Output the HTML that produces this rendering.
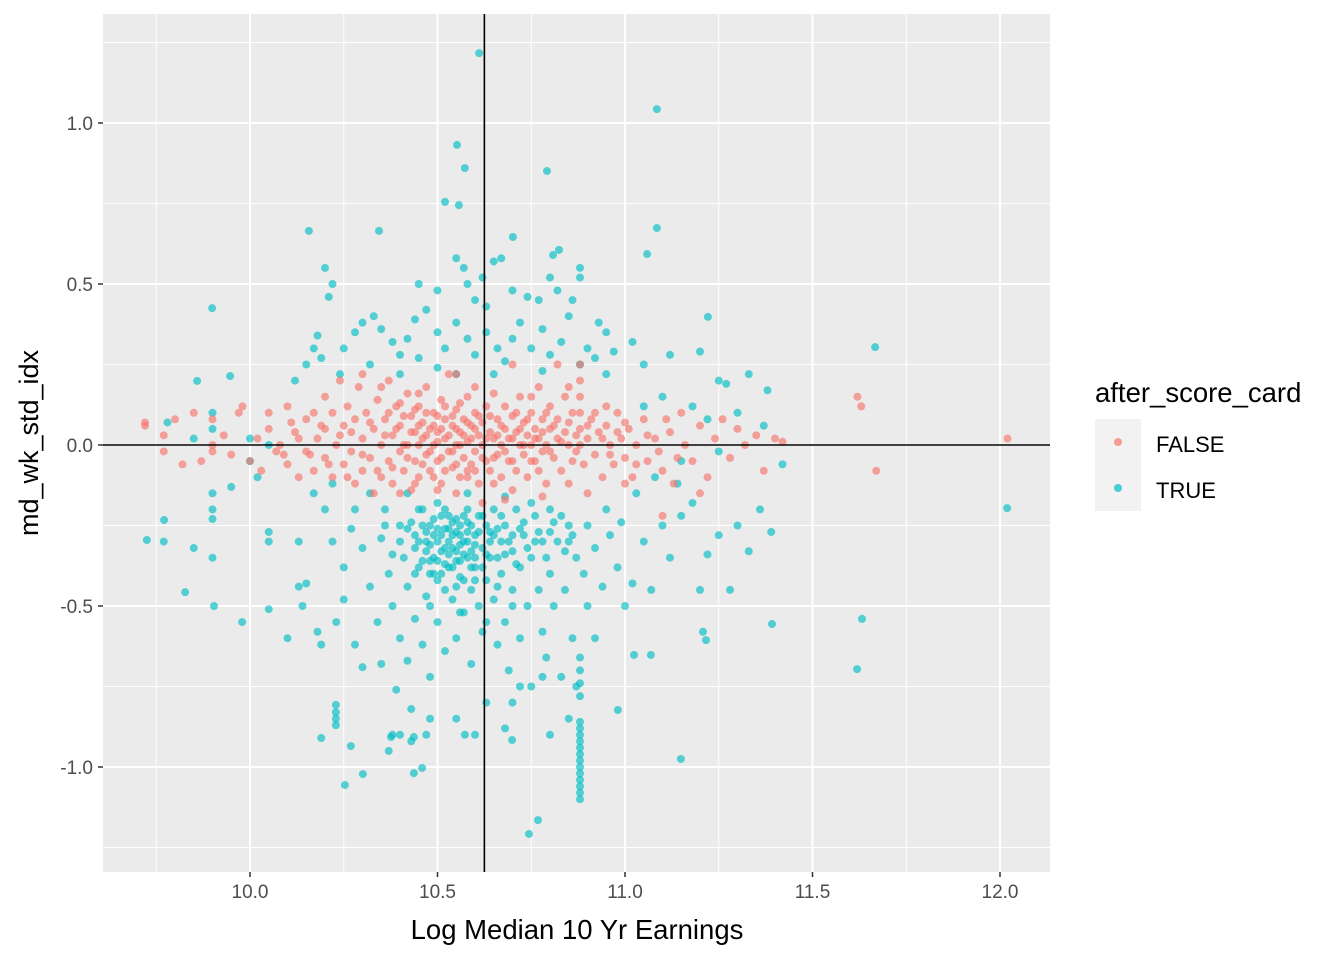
<!DOCTYPE html>
<html><head><meta charset="utf-8"><style>
html,body{margin:0;padding:0;background:#fff;}
svg text{font-family:"Liberation Sans",Arial,sans-serif;}
</style></head><body>
<svg id="chart" width="1344" height="960" xmlns="http://www.w3.org/2000/svg">
<rect x="103" y="14" width="947" height="858" fill="#EBEBEB"/>
<g id="grid"></g>
<g id="pts"></g>
<g id="ref"></g>
<g id="axes"></g>
<text x="577" y="939" font-size="27.5" text-anchor="middle" fill="#000">Log Median 10 Yr Earnings</text>
<text transform="translate(38,443) rotate(-90)" font-size="27" text-anchor="middle" fill="#000">md_wk_std_idx</text>
<g>
<text x="1095" y="402" font-size="27.5" fill="#000">after_score_card</text>
<rect x="1095" y="419" width="46" height="92" fill="#F2F2F2"/>
<circle cx="1118" cy="442" r="4" fill="#F8766D" fill-opacity="0.7"/>
<circle cx="1118" cy="488" r="4" fill="#00BFC4" fill-opacity="0.7"/>
<text x="1156" y="452" font-size="22" fill="#000">FALSE</text>
<text x="1156" y="498" font-size="22" fill="#000">TRUE</text>
</g>
</svg>
<script>
const xTicks=[10.0,10.5,11.0,11.5,12.0];
const xTickLabels=["10.0","10.5","11.0","11.5","12.0"];
const yTicks=[1.0,0.5,0.0,-0.5,-1.0];
const yTickLabels=["1.0","0.5","0.0","-0.5","-1.0"];
const refX=10.625, refY=0;
const truePts=[[10.611,1.217],[11.085,1.043],[10.552,0.932],[10.573,0.86],[10.792,0.851],[10.52,0.755],[10.557,0.745],[10.157,0.665],[10.344,0.665],[11.085,0.674],[11.059,0.593],[10.701,0.646],[10.824,0.606],[10.808,0.59],[9.899,0.425],[11.667,0.304],[11.221,0.398],[9.859,0.199],[9.947,0.214],[12.019,-0.196],[9.725,-0.295],[9.771,-0.233],[9.827,-0.457],[9.904,-0.5],[9.979,-0.55],[11.632,-0.54],[11.619,-0.696],[11.392,-0.556],[11.149,-0.975],[10.981,-0.823],[11.024,-0.652],[11.069,-0.652],[11.208,-0.58],[11.216,-0.606],[10.744,-1.208],[10.768,-1.165],[10.253,-1.056],[10.269,-0.935],[10.301,-1.022],[10.229,-0.807],[10.229,-0.83],[10.229,-0.85],[10.229,-0.87],[10.437,-1.019],[10.459,-1.003],[10.437,-0.907],[10.376,-0.907],[10.43,-0.92],[10.573,-0.9],[10.699,-0.916],[10.8,-0.9],
[10.55,0.58],[10.57,0.55],[10.62,0.52],[10.65,0.57],[10.67,0.58],[10.45,0.5],[10.5,0.48],[10.58,0.5],[10.6,0.45],[10.63,0.43],[10.7,0.48],[10.74,0.46],[10.77,0.45],[10.8,0.52],[10.82,0.48],[10.86,0.45],[10.88,0.55],[10.88,0.52],[10.93,0.38],[10.95,0.35],[10.2,0.55],[10.22,0.5],[10.21,0.46],[10.18,0.34],[10.17,0.3],[10.19,0.27],[10.25,0.3],[10.28,0.35],[10.3,0.38],[10.33,0.4],[10.35,0.36],[10.38,0.32],[10.4,0.28],[10.42,0.33],[10.44,0.39],[10.47,0.42],[10.5,0.35],[10.52,0.3],[10.55,0.38],[10.58,0.33],[10.6,0.28],[10.63,0.35],[10.66,0.3],[10.68,0.26],[10.7,0.33],[10.72,0.38],[10.75,0.3],[10.78,0.36],[10.8,0.28],[10.83,0.32],[10.85,0.4],[10.9,0.3],[10.92,0.27],[10.97,0.29],[11.02,0.32],[11.05,0.25],[11.12,0.28],[11.2,0.29],[11.25,0.2],[11.33,0.22],[11.27,0.19],[11.38,0.17],[10.45,0.27],[10.5,0.24],[10.55,0.22],[10.65,0.22],[10.78,0.23],[10.88,0.25],[10.95,0.22],[10.32,0.25],[10.4,0.22],[10.24,0.22],[10.15,0.25],[10.12,0.2],[9.9,0.1],[9.9,0.05],[9.85,0.02],[9.78,0.07],[10.0,0.02],[10.05,0.0],[11.05,0.12],[11.1,0.15],[11.18,0.12],[11.22,0.08],[11.3,0.1],[11.37,0.06],[11.42,-0.06],[11.25,-0.02],[11.15,-0.05],
[9.9,-0.15],[9.9,-0.2],[9.9,-0.23],[9.9,-0.35],[9.77,-0.3],[9.85,-0.32],[9.95,-0.13],[10.0,-0.05],[10.02,-0.1],[10.05,-0.27],[10.05,-0.3],[10.05,-0.51],[10.1,-0.6],[10.13,-0.3],[10.13,-0.44],[10.14,-0.5],[10.15,-0.43],[10.17,-0.15],[10.18,-0.58],[10.19,-0.62],[10.19,-0.91],[10.2,-0.2],[10.22,-0.12],[10.22,-0.3],[10.23,-0.55],[10.25,-0.38],[10.25,-0.48],[10.27,-0.26],[10.28,-0.2],[10.28,-0.62],[10.3,-0.32],[10.3,-0.69],[10.32,-0.15],[10.32,-0.44],[10.34,-0.55],[10.35,-0.29],[10.35,-0.68],[10.36,-0.2],[10.37,-0.4],[10.38,-0.5],[10.39,-0.76],[10.4,-0.25],[10.4,-0.6],[10.41,-0.35],[10.42,-0.15],[10.42,-0.44],[10.42,-0.67],[10.43,-0.82],[10.44,-0.28],[10.44,-0.54],[10.45,-0.2],[10.45,-0.38],[10.46,-0.62],[10.47,-0.3],[10.47,-0.47],[10.48,-0.25],[10.48,-0.72],[10.49,-0.35],[10.5,-0.18],[10.5,-0.42],[10.5,-0.55],[10.51,-0.28],[10.52,-0.32],[10.52,-0.64],[10.53,-0.22],[10.53,-0.38],[10.54,-0.48],[10.54,-0.28],[10.55,-0.33],[10.55,-0.6],[10.56,-0.25],[10.56,-0.41],[10.57,-0.3],[10.57,-0.52],[10.58,-0.35],[10.58,-0.2],[10.59,-0.45],[10.59,-0.68],[10.6,-0.28],[10.6,-0.38],[10.61,-0.5],[10.61,-0.22],[10.62,-0.32],[10.62,-0.58],[10.63,-0.42],[10.63,-0.8],[10.64,-0.27],[10.64,-0.35],[10.65,-0.2],[10.65,-0.48],[10.66,-0.62],[10.67,-0.3],[10.67,-0.4],[10.68,-0.25],[10.68,-0.55],[10.69,-0.7],[10.7,-0.33],[10.7,-0.45],[10.71,-0.2],[10.72,-0.6],[10.72,-0.38],[10.73,-0.28],[10.74,-0.5],[10.75,-0.35],[10.75,-0.75],[10.76,-0.22],[10.77,-0.45],[10.78,-0.3],[10.78,-0.58],[10.79,-0.66],[10.8,-0.4],[10.8,-0.2],[10.81,-0.5],[10.82,-0.3],[10.83,-0.72],[10.84,-0.45],[10.85,-0.25],[10.86,-0.6],[10.87,-0.35],[10.87,-0.75],[10.89,-0.4],[10.9,-0.5],[10.9,-0.25],[10.92,-0.32],[10.92,-0.6],[10.94,-0.44],[10.95,-0.2],[10.96,-0.28],[10.98,-0.38],[10.99,-0.24],[11.0,-0.5],[11.02,-0.43],[11.03,-0.15],[11.05,-0.3],[11.07,-0.45],[11.1,-0.25],[11.12,-0.35],[11.15,-0.22],[11.18,-0.18],[11.2,-0.45],[11.22,-0.34],[11.25,-0.28],[11.28,-0.45],[11.3,-0.25],[11.33,-0.33],[11.36,-0.2],[11.39,-0.27],[11.08,-0.1],[11.14,-0.12],[10.47,-0.9],[10.48,-0.85],[10.4,-0.9],[10.38,-0.9],[10.37,-0.95],[10.55,-0.85],[10.6,-0.9],[10.68,-0.88],[10.85,-0.85],[10.7,-0.8],[10.78,-0.72],[10.72,-0.75],
[10.46,-0.25],[10.47,-0.33],[10.48,-0.4],[10.49,-0.28],[10.5,-0.3],[10.5,-0.36],[10.51,-0.22],[10.51,-0.4],[10.52,-0.26],[10.53,-0.3],[10.53,-0.34],[10.54,-0.24],[10.54,-0.38],[10.55,-0.27],[10.56,-0.31],[10.56,-0.36],[10.57,-0.22],[10.57,-0.42],[10.58,-0.27],[10.58,-0.3],[10.59,-0.33],[10.59,-0.25],[10.6,-0.35],[10.44,-0.32],[10.45,-0.3],[10.46,-0.36],[10.43,-0.24],[10.62,-0.38],[10.64,-0.3],[10.66,-0.26],[10.68,-0.34],[10.7,-0.28],[10.73,-0.24],[10.76,-0.3],[10.8,-0.27],[10.83,-0.22],[10.85,-0.3],[10.63,-0.25],
[10.46,-0.2],[10.47,-0.27],[10.48,-0.31],[10.48,-0.36],[10.49,-0.23],[10.49,-0.4],[10.5,-0.26],[10.51,-0.33],[10.52,-0.2],[10.52,-0.37],[10.53,-0.26],[10.54,-0.32],[10.55,-0.23],[10.55,-0.36],[10.56,-0.28],[10.57,-0.34],[10.58,-0.24],[10.59,-0.38],[10.6,-0.31],[10.61,-0.27],[10.62,-0.22],[10.63,-0.34],[10.65,-0.28],[10.66,-0.35],[10.67,-0.22],[10.69,-0.3],[10.71,-0.37],[10.72,-0.26],[10.74,-0.32],[10.77,-0.27],[10.79,-0.35],[10.81,-0.24],[10.84,-0.33],[10.86,-0.28],[10.4,-0.3],[10.42,-0.26],[10.38,-0.34],[10.36,-0.25],[10.44,-0.4],[10.55,-0.44],[10.6,-0.42],[10.52,-0.45],[10.66,-0.44],[10.7,-0.5],[10.63,-0.55],[10.56,-0.52],[10.48,-0.5],[10.58,-0.15],[10.68,-0.16],[10.75,-0.18],
[10.88,-0.66],[10.88,-0.7],[10.88,-0.74],[10.88,-0.78],[10.88,-0.86],[10.88,-0.88],[10.88,-0.9],[10.88,-0.92],[10.88,-0.94],[10.88,-0.96],[10.88,-0.98],[10.88,-1.0],[10.88,-1.02],[10.88,-1.04],[10.88,-1.06],[10.88,-1.08],[10.88,-1.1]];
const falsePts=[[9.72,0.07],[9.72,0.06],[9.77,0.03],[9.77,-0.02],[9.8,0.08],[9.82,-0.06],[9.85,0.1],[9.87,-0.05],[9.9,0.08],[9.9,0.0],[9.9,-0.02],[9.93,0.03],[9.95,-0.03],[9.97,0.1],[9.98,0.12],[10.0,-0.05],[10.02,0.02],[10.03,-0.08],[10.05,0.1],[10.05,0.05],[10.07,-0.02],[10.08,0.0],[10.1,0.12],[10.1,-0.06],[10.12,0.04],[10.13,-0.1],[10.15,0.08],[10.15,-0.02],[10.17,0.1],[10.17,-0.08],[10.18,0.02],[10.2,0.15],[10.2,-0.04],[10.2,0.05],[10.22,0.1],[10.22,-0.1],[10.23,0.0],[10.24,0.2],[10.25,0.06],[10.25,-0.06],[10.26,0.12],[10.27,-0.02],[10.28,0.08],[10.28,-0.12],[10.29,0.18],[10.3,0.02],[10.3,-0.08],[10.31,0.1],[10.32,-0.04],[10.33,0.05],[10.33,-0.15],[10.34,0.14],[10.35,0.0],[10.35,-0.1],[10.36,0.08],[10.37,0.2],[10.37,-0.05],[10.38,0.03],[10.38,-0.12],[10.39,0.12],[10.4,-0.02],[10.4,0.06],[10.41,-0.08],[10.42,0.16],[10.42,0.0],[10.43,-0.14],[10.43,0.09],[10.44,0.04],[10.44,-0.05],[10.45,0.12],[10.45,-0.1],[10.46,0.02],[10.46,0.07],[10.47,-0.03],[10.47,0.18],[10.48,0.05],[10.48,-0.08],[10.49,0.1],[10.49,0.0],[10.5,-0.05],[10.5,0.04],[10.51,0.14],[10.51,-0.12],[10.52,0.02],[10.52,0.08],[10.53,-0.02],[10.53,0.22],[10.54,0.06],[10.54,-0.07],[10.55,0.11],[10.55,0.0],[10.56,-0.1],[10.56,0.04],[10.57,0.08],[10.57,-0.04],[10.58,0.15],[10.58,0.01],[10.59,-0.06],[10.59,0.06],[10.6,0.1],[10.6,-0.02],[10.61,0.03],[10.61,-0.12],[10.62,0.07],[10.62,0.0],[10.63,-0.05],[10.63,0.12],[10.64,0.04],[10.64,-0.08],[10.65,0.02],[10.65,0.16],[10.66,-0.03],[10.66,0.08],[10.67,0.0],[10.67,-0.1],[10.68,0.05],[10.68,0.12],[10.69,-0.05],[10.7,0.02],[10.7,0.09],[10.71,-0.08],[10.71,0.04],[10.72,0.0],[10.72,0.15],[10.73,-0.03],[10.73,0.07],[10.74,0.03],[10.74,-0.1],[10.75,0.1],[10.75,0.0],[10.76,-0.05],[10.76,0.05],[10.77,0.02],[10.77,0.18],[10.78,-0.02],[10.78,0.08],[10.79,0.0],[10.79,-0.12],[10.8,0.05],[10.8,0.12],[10.81,-0.04],[10.82,0.02],[10.82,0.08],[10.83,-0.08],[10.84,0.04],[10.84,0.15],[10.85,0.0],[10.86,-0.05],[10.86,0.1],[10.87,0.03],[10.88,0.05],[10.88,0.1],[10.88,0.15],[10.88,0.2],[10.88,0.25],[10.88,0.0],[10.89,-0.06],[10.9,0.02],[10.91,0.08],[10.92,-0.03],[10.93,0.04],[10.94,-0.1],[10.95,0.06],[10.96,0.0],[10.97,-0.06],[10.98,0.1],[10.99,0.02],[11.0,-0.04],[11.01,0.05],[11.02,-0.1],[11.03,0.0],[11.05,0.08],[11.06,-0.05],[11.08,0.02],[11.1,-0.08],[11.12,0.04],[11.13,-0.12],[11.15,0.1],[11.16,0.0],[11.18,-0.05],[11.2,0.06],[11.22,-0.1],[11.24,0.02],[11.26,0.08],[11.28,-0.04],[11.3,0.05],[11.32,0.0],[11.35,0.03],[11.37,-0.08],[11.4,0.02],[11.42,0.01],[11.1,-0.22],[11.2,-0.15],[10.55,-0.15],[10.62,-0.18],[10.7,-0.14],[10.78,-0.16],[10.9,-0.15],[10.3,0.22],[10.55,0.22],[10.7,0.25],[10.82,0.25],[11.62,0.15],[11.63,0.12],[11.67,-0.08],[12.02,0.02],
[10.36,0.03],[10.37,0.1],[10.38,-0.07],[10.39,0.05],[10.4,0.13],[10.41,0.0],[10.41,0.09],[10.42,-0.04],[10.43,0.04],[10.44,0.11],[10.45,0.0],[10.45,0.06],[10.46,-0.06],[10.47,0.03],[10.47,0.1],[10.48,-0.02],[10.49,0.06],[10.49,-0.1],[10.5,0.01],[10.5,0.09],[10.51,-0.04],[10.51,0.05],[10.52,-0.08],[10.52,0.12],[10.53,0.03],[10.54,-0.02],[10.54,0.09],[10.55,0.05],[10.55,-0.06],[10.56,0.0],[10.56,0.13],[10.57,0.03],[10.58,-0.08],[10.58,0.07],[10.59,0.02],[10.6,0.05],[10.6,-0.08],[10.61,0.09],[10.62,-0.04],[10.63,0.02],[10.64,0.09],[10.65,-0.04],[10.66,0.03],[10.67,0.06],[10.68,-0.02],[10.69,0.02],[10.7,-0.05],[10.71,0.1],[10.72,0.05],[10.73,0.0],[10.74,0.08],[10.75,-0.05],[10.76,0.02],[10.77,-0.08],[10.78,0.04],[10.79,0.1],[10.8,-0.02],[10.81,0.06],[10.83,0.01],[10.85,0.07],[10.87,-0.02],[10.9,0.06],[10.92,0.1],[10.94,0.02],[10.96,-0.03],[10.98,0.04],[11.0,0.07],[11.03,-0.06],[11.06,0.03],[11.09,-0.02],[11.11,0.08],[11.14,-0.04],[10.3,-0.03],[10.32,0.07],[10.34,-0.08],[10.27,0.04],[10.26,-0.1],[10.24,0.03],[10.21,-0.06],[10.19,0.06],[10.16,-0.03],[10.13,0.02],[10.11,0.07],[10.09,-0.03],[10.35,0.18],[10.45,0.16],[10.6,0.18],[10.75,0.15],[10.85,0.18],[10.95,0.12],[10.4,-0.15],[10.5,-0.14],[10.65,-0.12],[10.85,-0.12],[11.0,-0.12],[10.68,-0.17],[10.44,-0.12],[10.58,-0.1]];

const NS="http://www.w3.org/2000/svg";
const PL=103,PR=1050,PT=14,PB=872;
function sx(v){return 250+(v-10)*375;}
function sy(v){return 445-v*322;}
function mk(tag,attrs,parent){const e=document.createElementNS(NS,tag);for(const k in attrs)e.setAttribute(k,attrs[k]);parent.appendChild(e);return e;}
const grid=document.getElementById('grid');
const axes=document.getElementById('axes');
for(let i=0;i<xTicks.length-1;i++){const v=(xTicks[i]+xTicks[i+1])/2;const l=mk('line',{x1:sx(v),x2:sx(v),y1:PT,y2:PB,stroke:'#fff','stroke-width':1},grid);

}
{const v=xTicks[0]-0.25;const l=mk('line',{x1:sx(v),x2:sx(v),y1:PT,y2:PB,stroke:'#fff','stroke-width':1},grid);

}
for(let i=0;i<yTicks.length-1;i++){const v=(yTicks[i]+yTicks[i+1])/2;const l=mk('line',{x1:PL,x2:PR,y1:sy(v),y2:sy(v),stroke:'#fff','stroke-width':1},grid);

}
[yTicks[0]+0.25,yTicks[yTicks.length-1]-0.25].forEach(v=>{const l=mk('line',{x1:PL,x2:PR,y1:sy(v),y2:sy(v),stroke:'#fff','stroke-width':1},grid);

});
xTicks.forEach((v,i)=>{const l=mk('line',{x1:sx(v),x2:sx(v),y1:PT,y2:PB,stroke:'#fff','stroke-width':2},grid);


const t=mk('line',{x1:sx(v),x2:sx(v),y1:PB,y2:PB+5,stroke:'#333','stroke-width':1.5},axes);


const tx=mk('text',{x:sx(v),y:PB+26,'font-size':19,'text-anchor':'middle',fill:'#4D4D4D'},axes);tx.textContent=xTickLabels[i];

});
yTicks.forEach((v,i)=>{const l=mk('line',{x1:PL,x2:PR,y1:sy(v),y2:sy(v),stroke:'#fff','stroke-width':2},grid);


const t=mk('line',{x1:PL-5,x2:PL,y1:sy(v),y2:sy(v),stroke:'#333','stroke-width':1.5},axes);


const tx=mk('text',{x:PL-10,y:sy(v)+7,'font-size':19,'text-anchor':'end',fill:'#4D4D4D'},axes);tx.textContent=yTickLabels[i];

});
const pts=document.getElementById('pts');
truePts.forEach(p=>{const c=mk('circle',{cx:sx(p[0]),cy:sy(p[1]),r:4,fill:'#00BFC4','fill-opacity':0.65},pts);

});
falsePts.forEach(p=>{const c=mk('circle',{cx:sx(p[0]),cy:sy(p[1]),r:4,fill:'#F8766D','fill-opacity':0.65},pts);

});
const ref=document.getElementById('ref');
const vl=mk('line',{x1:sx(refX),x2:sx(refX),y1:PT,y2:PB,stroke:'#000','stroke-width':1.6},ref);


const hl=mk('line',{x1:PL,x2:PR,y1:sy(refY),y2:sy(refY),stroke:'#000','stroke-width':1.6},ref);


</script>
</body></html>
